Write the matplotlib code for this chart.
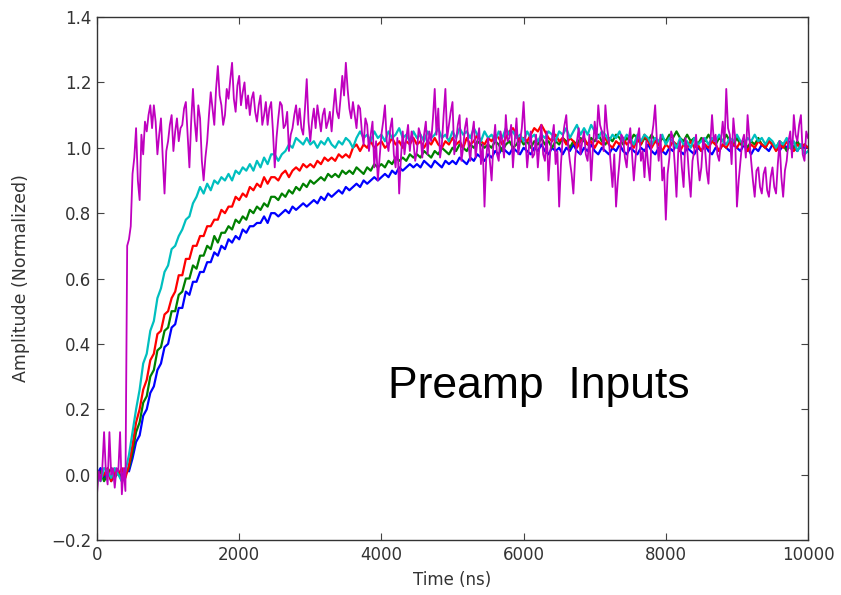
import numpy as np
import matplotlib
matplotlib.use("Agg")
import matplotlib.pyplot as plt

plt.rcParams["font.family"] = ["DejaVu Sans"]

dt_ns = 50
time_ns = np.arange(0, 10000 + dt_ns, dt_ns)
# The fast (magenta) input is read out twice as often
dt_fast_ns = 25
time_fast_ns = np.arange(0, 10000 + dt_fast_ns, dt_fast_ns)

# Normalised preamp input waveforms, one value per 50 ns (rows = 500 ns)
blue_trace = [
    0.00, 0.02, -0.01, 0.01, -0.02, 0.00, 0.01, -0.01, 0.02, 0.01,
    0.05, 0.10, 0.12, 0.18, 0.20, 0.25, 0.27, 0.32, 0.34, 0.39,
    0.40, 0.45, 0.46, 0.51, 0.51, 0.56, 0.55, 0.59, 0.59, 0.62,
    0.62, 0.65, 0.65, 0.68, 0.67, 0.70, 0.69, 0.72, 0.71, 0.73,
    0.72, 0.75, 0.74, 0.76, 0.76, 0.77, 0.77, 0.79, 0.77, 0.80,
    0.80, 0.79, 0.80, 0.81, 0.80, 0.82, 0.81, 0.82, 0.83, 0.82,
    0.83, 0.84, 0.83, 0.85, 0.84, 0.86, 0.85, 0.86, 0.87, 0.86,
    0.88, 0.87, 0.88, 0.89, 0.88, 0.90, 0.89, 0.90, 0.91, 0.90,
    0.91, 0.92, 0.91, 0.93, 0.92, 0.94, 0.93, 0.94, 0.95, 0.94,
    0.95, 0.94, 0.96, 0.95, 0.94, 0.96, 0.95, 0.94, 0.96, 0.95,
    0.96, 0.95, 0.97, 0.96, 0.95, 0.97, 0.96, 0.98, 0.97, 0.96,
    0.98, 0.97, 0.99, 0.98, 1.00, 0.99, 0.98, 1.00, 0.99, 0.98,
    1.00, 0.99, 0.98, 1.00, 0.99, 1.01, 0.99, 0.98, 1.00, 0.99,
    1.00, 0.98, 1.00, 0.99, 1.01, 0.99, 0.98, 1.00, 0.99, 1.01,
    0.99, 0.98, 1.00, 0.99, 0.98, 1.00, 0.99, 1.01, 0.99, 0.98,
    1.00, 0.99, 0.98, 1.00, 0.99, 1.01, 0.99, 0.98, 1.00, 0.99,
    0.98, 1.00, 0.99, 1.01, 0.99, 0.98, 1.00, 0.99, 0.98, 1.00,
    0.99, 1.01, 0.99, 0.98, 1.00, 0.99, 1.01, 1.00, 0.99, 1.01,
    1.00, 0.99, 1.01, 1.00, 0.98, 1.00, 0.99, 1.01, 1.00, 0.99,
    1.01, 1.00, 0.99, 1.01, 1.00, 1.02, 1.00, 0.99, 1.01, 1.00,
    1.00,
]

green_trace = [
    -0.01, 0.01, -0.02, 0.00, 0.02, -0.01, 0.01, -0.02, 0.00, 0.02,
    0.07, 0.13, 0.16, 0.22, 0.24, 0.30, 0.32, 0.38, 0.39, 0.44,
    0.45, 0.50, 0.50, 0.55, 0.56, 0.60, 0.60, 0.64, 0.63, 0.67,
    0.67, 0.70, 0.69, 0.73, 0.71, 0.74, 0.74, 0.76, 0.75, 0.78,
    0.77, 0.79, 0.78, 0.81, 0.80, 0.82, 0.81, 0.83, 0.82, 0.85,
    0.85, 0.84, 0.86, 0.85, 0.87, 0.86, 0.88, 0.87, 0.89, 0.88,
    0.90, 0.89, 0.90, 0.91, 0.90, 0.92, 0.91, 0.92, 0.91, 0.93,
    0.92, 0.93, 0.92, 0.94, 0.93, 0.92, 0.94, 0.93, 0.95, 0.94,
    0.95, 0.94, 0.96, 0.95, 0.97, 0.96, 0.97, 0.96, 0.98, 0.97,
    0.98, 0.97, 0.99, 0.98, 0.97, 0.99, 0.98, 1.00, 0.99, 0.98,
    1.00, 0.99, 1.01, 1.00, 0.99, 1.01, 1.00, 1.02, 1.01, 1.00,
    1.01, 1.00, 1.02, 1.01, 0.99, 1.01, 1.02, 1.00, 1.01, 1.03,
    1.01, 1.02, 1.00, 1.02, 1.01, 1.03, 1.01, 1.02, 1.00, 1.02,
    1.01, 1.03, 1.02, 1.00, 1.02, 1.01, 1.03, 1.02, 1.01, 1.03,
    1.02, 1.04, 1.02, 1.01, 1.03, 1.02, 1.04, 1.03, 1.01, 1.03,
    1.02, 1.04, 1.03, 1.01, 1.03, 1.02, 1.04, 1.02, 1.01, 1.03,
    1.02, 1.04, 1.03, 1.05, 1.03, 1.02, 1.04, 1.02, 1.03, 1.01,
    1.03, 1.02, 1.04, 1.02, 1.01, 1.03, 1.02, 1.04, 1.02, 1.01,
    1.03, 1.01, 1.02, 1.00, 1.02, 1.01, 1.03, 1.01, 1.00, 1.02,
    1.01, 1.00, 1.02, 1.01, 0.99, 1.01, 1.00, 1.02, 1.00, 1.01,
    1.00,
]

red_trace = [
    0.01, -0.01, 0.00, 0.02, -0.02, 0.01, 0.00, 0.02, -0.01, 0.03,
    0.09, 0.16, 0.20, 0.26, 0.29, 0.35, 0.37, 0.43, 0.44, 0.49,
    0.50, 0.54, 0.56, 0.61, 0.61, 0.66, 0.66, 0.70, 0.70, 0.73,
    0.73, 0.76, 0.76, 0.78, 0.78, 0.81, 0.80, 0.82, 0.82, 0.85,
    0.84, 0.86, 0.85, 0.88, 0.87, 0.89, 0.88, 0.91, 0.89, 0.91,
    0.91, 0.90, 0.92, 0.93, 0.91, 0.93, 0.94, 0.93, 0.95, 0.94,
    0.95, 0.94, 0.96, 0.95, 0.97, 0.96, 0.97, 0.96, 0.98, 0.97,
    0.98, 0.97, 1.00, 1.01, 0.99, 1.01, 1.00, 1.02, 1.00, 1.01,
    1.02, 1.00, 1.01, 1.03, 1.01, 1.02, 1.00, 1.02, 1.01, 1.03,
    1.01, 1.02, 1.00, 1.02, 1.01, 1.03, 1.01, 1.00, 1.02, 1.01,
    1.03, 1.01, 1.02, 1.00, 1.03, 1.01, 1.02, 1.04, 1.02, 1.01,
    1.03, 1.02, 1.04, 1.03, 1.01, 1.03, 1.05, 1.06, 1.04, 1.02,
    1.03, 1.02, 1.04, 1.06, 1.05, 1.07, 1.05, 1.03, 1.02, 1.04,
    1.02, 1.03, 1.01, 1.03, 1.02, 1.00, 1.02, 1.03, 1.01, 1.02,
    1.00, 1.02, 1.01, 1.03, 1.01, 1.00, 1.02, 1.01, 1.03, 1.01,
    1.02, 1.00, 1.03, 1.01, 1.04, 1.02, 1.00, 1.02, 1.01, 0.99,
    1.01, 1.00, 1.02, 1.01, 0.99, 1.01, 1.00, 1.02, 1.00, 1.01,
    0.99, 1.01, 1.00, 1.02, 1.01, 0.99, 1.01, 1.00, 1.02, 1.01,
    1.00, 1.02, 1.01, 0.99, 1.01, 1.00, 1.02, 1.01, 1.00, 1.02,
    1.01, 0.99, 1.01, 1.00, 1.02, 1.00, 0.99, 1.01, 1.00, 1.01,
    1.00,
]

cyan_trace = [
    0.00, -0.02, 0.02, 0.01, -0.01, 0.02, 0.00, -0.02, 0.01, 0.06,
    0.13, 0.20, 0.26, 0.34, 0.37, 0.44, 0.47, 0.54, 0.57, 0.62,
    0.64, 0.69, 0.70, 0.73, 0.75, 0.78, 0.79, 0.83, 0.85, 0.88,
    0.86, 0.89, 0.87, 0.90, 0.89, 0.91, 0.90, 0.92, 0.90, 0.93,
    0.92, 0.94, 0.93, 0.95, 0.93, 0.96, 0.94, 0.97, 0.95, 0.98,
    0.98, 0.96, 0.98, 0.99, 1.01, 1.00, 1.03, 1.02, 1.01, 1.03,
    1.01, 1.02, 1.00, 1.02, 1.01, 1.03, 1.01, 1.00, 1.02, 1.01,
    1.03, 1.02, 1.00, 1.03, 1.05, 1.03, 1.04, 1.02, 1.05, 1.03,
    1.04, 1.02, 1.05, 1.03, 1.04, 1.06, 1.03, 1.04, 1.02, 1.05,
    1.03, 1.04, 1.02, 1.05, 1.03, 1.04, 1.06, 1.03, 1.04, 1.02,
    1.05, 1.03, 1.06, 1.04, 1.05, 1.03, 1.06, 1.04, 1.02, 1.05,
    1.03, 1.04, 1.02, 1.05, 1.03, 1.06, 1.04, 1.05, 1.03, 1.04,
    1.02, 1.05, 1.03, 1.04, 1.02, 1.04, 1.03, 1.05, 1.04, 1.02,
    1.05, 1.04, 1.06, 1.03, 1.05, 1.07, 1.04, 1.06, 1.04, 1.07,
    1.05, 1.03, 1.05, 1.04, 1.02, 1.04, 1.03, 1.05, 1.02, 1.04,
    1.03, 1.01, 1.04, 1.02, 1.04, 1.03, 1.01, 1.03, 1.02, 1.04,
    1.01, 1.03, 1.02, 1.00, 1.03, 1.01, 1.02, 1.00, 1.03, 1.01,
    1.02, 1.03, 1.01, 1.03, 1.02, 1.04, 1.02, 1.01, 1.03, 1.02,
    1.04, 1.02, 1.01, 1.03, 1.02, 1.04, 1.02, 1.03, 1.01, 1.03,
    1.02, 1.00, 1.02, 1.01, 1.03, 1.00, 1.02, 0.99, 1.01, 0.98,
    0.99,
]

# Fast input, one value per 25 ns (rows = 500 ns)
magenta_trace = [
    -0.06, 0.01, -0.02, 0.02, 0.13, 0.01, -0.03, 0.13, 0.00, 0.02,
    -0.04, 0.02, 0.01, 0.13, -0.06, 0.02, -0.05, 0.70, 0.72, 0.76,
    0.92, 0.97, 1.06, 0.90, 0.84, 1.04, 0.98, 1.08, 1.05, 1.10,
    1.13, 1.06, 1.13, 1.08, 0.98, 1.04, 1.09, 0.97, 0.86, 0.99,
    1.02, 1.07, 1.10, 0.99, 1.05, 1.09, 1.02, 1.06, 1.07, 1.12,
    1.14, 1.04, 0.94, 1.08, 1.18, 1.08, 1.02, 1.13, 1.09, 0.96,
    0.90, 0.97, 1.02, 1.10, 1.17, 1.12, 1.07, 1.18, 1.25, 1.16,
    1.13, 1.07, 1.10, 1.18, 1.15, 1.21, 1.26, 1.15, 1.11, 1.19,
    1.22, 1.13, 1.17, 1.20, 1.12, 1.16, 1.10, 1.15, 1.17, 1.11,
    1.08, 1.13, 1.16, 1.07, 1.10, 1.14, 1.07, 1.12, 1.14, 1.05,
    0.94, 1.03, 1.09, 1.14, 1.13, 1.06, 1.07, 1.11, 0.99, 1.04,
    1.06, 1.10, 1.13, 1.07, 1.12, 1.06, 1.04, 1.12, 1.21, 1.08,
    1.02, 1.08, 1.12, 1.06, 1.13, 1.09, 1.05, 1.10, 1.12, 1.06,
    1.08, 1.11, 1.05, 1.12, 1.18, 1.11, 1.09, 1.15, 1.22, 1.16,
    1.26, 1.18, 1.12, 1.09, 1.14, 1.10, 1.06, 1.13, 1.12, 1.05,
    1.01, 1.09, 1.07, 0.99, 1.04, 1.08, 0.94, 1.02, 0.90, 0.97,
    1.04, 1.08, 1.13, 1.02, 0.99, 1.06, 1.09, 0.98, 0.94, 1.03,
    0.86, 0.97, 1.05, 0.98, 1.03, 1.07, 0.99, 1.05, 1.02, 0.96,
    0.99, 1.06, 1.04, 0.97, 1.04, 1.08, 0.98, 1.05, 1.02, 1.09,
    1.18, 1.04, 1.12, 0.97, 1.01, 1.10, 1.18, 1.03, 1.07, 1.11,
    1.14, 0.98, 1.02, 1.07, 1.10, 0.96, 1.00, 1.06, 1.09, 1.01,
    0.96, 1.04, 1.08, 0.97, 1.02, 1.06, 0.95, 1.01, 0.82, 0.97,
    1.03, 0.96, 0.90, 1.01, 1.07, 0.98, 0.96, 1.05, 1.02, 0.97,
    1.10, 1.02, 1.03, 1.07, 0.94, 1.02, 1.09, 0.98, 1.02, 1.06,
    1.14, 1.03, 0.94, 1.00, 1.05, 0.97, 0.98, 1.04, 0.94, 1.01,
    1.07, 0.98, 0.96, 1.05, 0.90, 0.99, 1.03, 1.07, 0.95, 0.99,
    0.82, 0.95, 1.03, 1.07, 1.10, 1.01, 0.96, 0.92, 0.86, 0.97,
    1.02, 1.06, 0.98, 1.02, 1.05, 0.98, 0.96, 1.04, 0.90, 1.00,
    1.08, 1.02, 1.13, 1.07, 1.05, 0.99, 1.13, 1.06, 1.02, 0.95,
    0.88, 0.98, 0.82, 0.90, 0.96, 1.04, 1.03, 0.97, 0.94, 1.02,
    1.06, 0.98, 0.90, 0.97, 1.03, 1.06, 0.96, 0.99, 0.91, 1.02,
    0.95, 0.90, 1.03, 1.07, 1.13, 1.02, 0.96, 1.04, 0.90, 0.94,
    0.78, 0.92, 0.97, 1.05, 1.03, 0.95, 0.85, 0.99, 1.02, 0.94,
    0.88, 1.03, 1.00, 0.92, 0.85, 0.96, 0.99, 1.04, 0.96, 0.90,
    0.94, 1.03, 1.00, 0.93, 0.89, 1.01, 1.10, 1.02, 1.04, 0.98,
    0.96, 1.02, 1.08, 1.01, 1.18, 1.06, 1.04, 0.95, 1.09, 1.03,
    0.82, 0.90, 0.96, 1.02, 1.04, 0.97, 1.10, 1.03, 0.96, 0.90,
    0.85, 0.93, 0.94, 0.88, 0.86, 0.92, 0.94, 0.87, 0.85, 0.91,
    0.94, 0.88, 0.86, 0.95, 1.02, 0.91, 0.85, 0.93, 0.96, 1.02,
    1.05, 0.97, 1.10, 1.04, 1.02, 1.07, 1.10, 0.98, 0.96, 1.05,
    1.03,
]

smooth_traces = [
    (blue_trace, "#0000ff"),
    (green_trace, "#008000"),
    (red_trace, "#ff0000"),
    (cyan_trace, "#00bfbf"),
]

x_ticks = [0, 2000, 4000, 6000, 8000, 10000]
y_ticks = [-0.2, 0.0, 0.2, 0.4, 0.6, 0.8, 1.0, 1.2, 1.4]

fig = plt.figure(figsize=(8.41, 5.95), dpi=100)
ax = fig.add_axes([0.1153, 0.0924, 0.8455, 0.879])

for values, colour in smooth_traces:
    ax.plot(time_ns, values, color=colour, linewidth=1.6)
ax.plot(time_fast_ns, magenta_trace, color="#bf00bf", linewidth=1.3)

ax.set_xlim(0, 10000)
ax.set_ylim(-0.2, 1.4)
ax.set_xticks(x_ticks)
ax.set_yticks(y_ticks)
ax.tick_params(direction="in", top=True, right=True, length=5, width=0.8,
               labelsize=12, labelcolor="#333333", color="#444444", pad=4)
for spine in ax.spines.values():
    spine.set_color("#333333")
    spine.set_linewidth(1.0)

ax.set_xlabel("Time (ns)", fontsize=12, color="#333333", labelpad=5)
ax.set_ylabel("Amplitude (Normalized)", fontsize=12.5, color="#333333",
              labelpad=15)

ax.text(4090, 0.235, "Preamp  Inputs", fontsize=32, family="Liberation Sans",
        color="black", va="baseline", ha="left")

fig.savefig("out.png", dpi=100)
